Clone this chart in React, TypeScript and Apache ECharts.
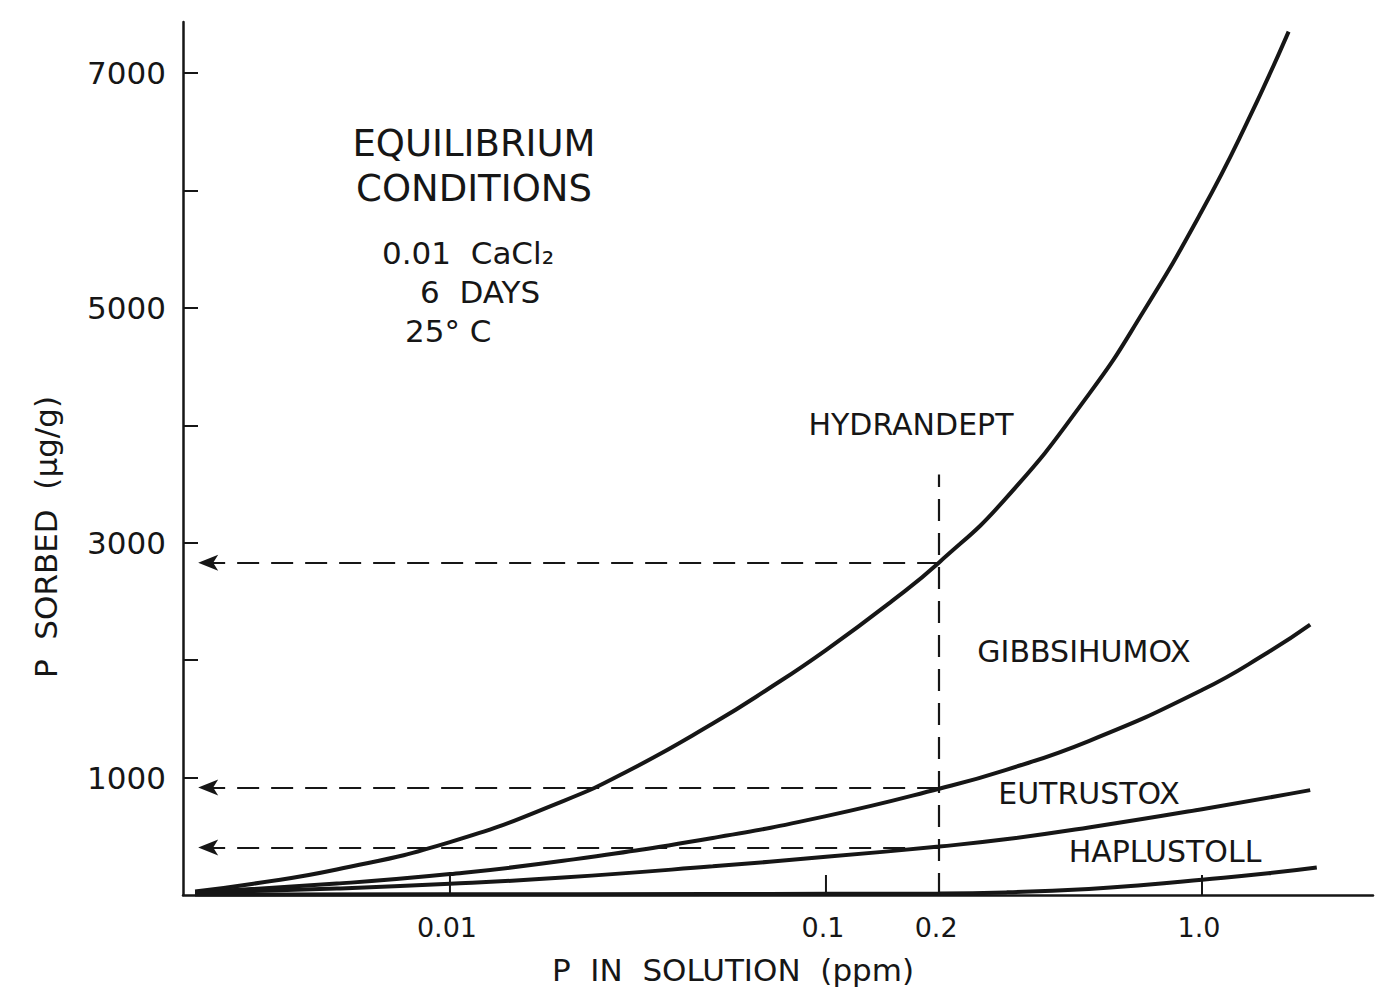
import React, { useEffect, useRef } from "react";
import * as echarts from "echarts";

// ---- data ----
const hydX = [0.0021, 0.003, 0.005, 0.01, 0.02, 0.03, 0.05, 0.07, 0.1, 0.15, 0.2, 0.3, 0.5, 0.7, 1.0, 1.3, 1.7];
const hydY = [30, 96, 217, 450, 800, 1062, 1460, 1752, 2086, 2505, 2832, 3373, 4263, 4973, 5826, 6538, 7352];

const gibX = [0.0021, 0.005, 0.01, 0.02, 0.05, 0.1, 0.2, 0.3, 0.5, 1.0, 1.5, 1.94];
const gibY = [25, 97, 178, 291, 486, 672, 905, 1064, 1311, 1745, 2067, 2302];

const eutX = [0.0021, 0.005, 0.01, 0.02, 0.05, 0.1, 0.2, 0.3, 0.5, 1.0, 1.94];
const eutY = [20, 55, 95, 149, 244, 325, 413, 474, 575, 731, 893];

const hapX = [0.0021, 0.01, 0.05, 0.1, 0.2, 0.3, 0.5, 0.7, 1.0, 1.5, 2.02];
const hapY = [5, 6, 8, 10, 12, 22, 52, 85, 130, 185, 234];

const seriesNames = ["HYDRANDEPT", "GIBBSIHUMOX", "EUTRUSTOX", "HAPLUSTOLL"];

const readX = 0.2; // P in solution read-off
const readY = [2830, 915, 405]; // P sorbed at 0.2 ppm
const readTop = 3580;
const arrowX = 0.00214;

const xTickVals = [0.01, 0.1, 0.2, 1.0];
const xTickLabels = ["0.01", "0.1", "0.2", "1.0"];
const yTickVals = [1000, 2000, 3000, 4000, 5000, 6000, 7000];
const yLabelVals = [1000, 3000, 5000, 7000];

const X_MIN = 0.00195;
const X_MAX = 2.85;
const Y_MAX = 7434;

const FONT = "DejaVu Sans";
const INK = "#161616";

const pairs = (xs: number[], ys: number[]) => xs.map((x, i) => [x, ys[i]]);

export default function App() {
  const ref = useRef<HTMLDivElement>(null);
  useEffect(() => {
    if (!ref.current) return;
    const chart = echarts.init(ref.current, null, { renderer: "svg" });
    const curveStyle = { color: INK, width: 4 };
    const mkCurve = (name: string, xs: number[], ys: number[], extra: any = {}) => ({
      name,
      type: "line",
      data: pairs(xs, ys),
      smooth: 0.5,
      symbol: "none",
      lineStyle: curveStyle,
      silent: true,
      ...extra,
    });
    const dash = { type: [22, 12], width: 2.2, color: INK };
    const txt = (text: string, x: number, y: number, fontSize: number, align = "center", extra: any = {}) => ({
      type: "text",
      x,
      y,
      ...extra,
      style: { text, fontFamily: FONT, fontSize, fill: INK, align, verticalAlign: "middle" },
    });
    const option: any = {
      animation: false,
      backgroundColor: "#ffffff",
      grid: { left: 183, right: 6, top: 22, bottom: 94, containLabel: false },
      xAxis: {
        type: "log",
        logBase: 10,
        min: X_MIN,
        max: X_MAX,
        axisLine: { show: true, lineStyle: { color: INK, width: 2.5 } },
        axisTick: { show: false },
        axisLabel: { show: false },
        splitLine: { show: false },
        minorTick: { show: false },
      },
      yAxis: {
        type: "value",
        min: 0,
        max: Y_MAX,
        axisLine: { show: true, lineStyle: { color: INK, width: 2.5 } },
        axisTick: {
          show: true,
          inside: true,
          length: 15,
          customValues: yTickVals,
          lineStyle: { color: INK, width: 2 },
        },
        axisLabel: {
          customValues: yLabelVals,
          formatter: (v: number) => String(v),
          fontFamily: FONT,
          fontSize: 31,
          color: INK,
          margin: 17,
        },
        splitLine: { show: false },
      },
      series: [
        mkCurve(seriesNames[0], hydX, hydY, {
          markLine: {
            silent: true,
            symbol: ["none", "none"],
            label: { show: false },
            lineStyle: dash,
            emphasis: { disabled: true },
            data: [
              [{ coord: [readX, 0] }, { coord: [readX, readTop] }],
              ...readY.map((v) => [
                { coord: [readX, v], symbol: "none" },
                { coord: [arrowX, v], symbol: "arrow", symbolSize: [12, 20] },
              ]),
            ],
          },
        }),
        mkCurve(seriesNames[1], gibX, gibY),
        mkCurve(seriesNames[2], eutX, eutY),
        mkCurve(seriesNames[3], hapX, hapY),
        {
          type: "custom",
          silent: true,
          clip: false,
          data: xTickVals.map((v) => [v, 0]),
          renderItem: (params: any, api: any) => {
            const v = api.value(0);
            const p = api.coord([v, 0]);
            const idx = params.dataIndex;
            const children: any[] = [];
            if (v !== readX) {
              children.push({
                type: "line",
                shape: { x1: p[0], y1: p[1], x2: p[0], y2: p[1] - 20 },
                style: { stroke: INK, lineWidth: 2 },
              });
            }
            children.push({
              type: "text",
              x: p[0] - 3,
              y: p[1] + 32,
              style: {
                text: xTickLabels[idx],
                fontFamily: FONT,
                fontSize: 27,
                fill: INK,
                align: "center",
                verticalAlign: "middle",
              },
            });
            return { type: "group", children };
          },
        },
      ],
      graphic: [
        txt("P  IN  SOLUTION  (ppm)", 733, 970, 31),
        txt("P  SORBED  (µg/g)", 46, 537, 31, "center", { rotation: Math.PI / 2 }),
        txt("EQUILIBRIUM", 474, 143, 37),
        txt("CONDITIONS", 474, 188, 37),
        txt("0.01  CaCl₂", 382, 253, 31, "left"),
        txt("6  DAYS", 420, 292, 31, "left"),
        txt("25° C", 405, 331, 31, "left"),
        txt(seriesNames[0], 911, 424, 30),
        txt(seriesNames[1], 1084, 651, 30),
        txt(seriesNames[2], 1089, 793, 30),
        txt(seriesNames[3], 1165, 851, 30),
      ],
    };
    chart.setOption(option);
    return () => chart.dispose();
  }, []);
  return (
    <div
      ref={ref}
      style={{ position: "fixed", left: 0, top: 0, width: 1379, height: 989, background: "#fff" }}
    />
  );
}
